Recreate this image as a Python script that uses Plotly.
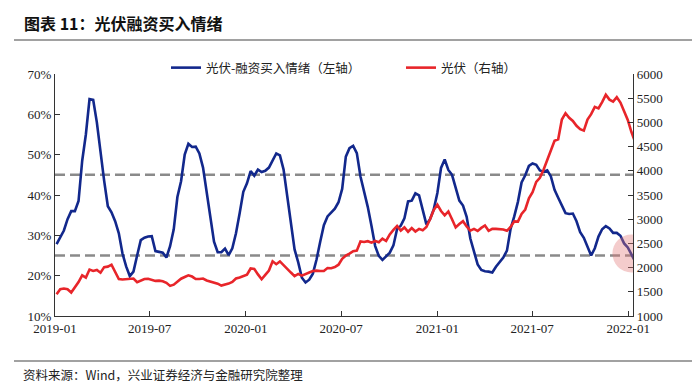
import pandas as pd
import plotly.graph_objects as go

# ---- data (weekly) ----
start_date = "2019-01-04"
sentiment = [  # 光伏-融资买入情绪 (%), left axis
    27.8, 29.4, 31.2, 34.0, 36.0, 36.0, 38.5, 48.5, 55.0, 63.8,
    63.6, 58.0, 50.5, 43.5, 37.2, 35.7, 33.5, 30.5, 25.5, 22.3,
    19.9, 21.0, 25.0, 28.8, 29.4, 29.7, 29.8, 26.1, 25.9, 25.7,
    24.5, 27.3, 31.5, 39.5, 43.4, 50.0, 52.7, 51.9, 52.0, 50.3,
    46.8, 40.5, 34.0, 28.4, 25.8, 25.8, 26.7, 25.1, 26.8, 30.5,
    35.5, 40.8, 42.9, 45.9, 44.8, 46.3, 45.7, 46.0, 46.8, 48.6,
    50.3, 49.8, 46.3, 39.7, 32.5, 26.5, 23.3, 19.5, 18.3, 19.0,
    20.5, 24.0, 28.4, 32.5, 34.7, 35.7, 36.6, 38.2, 41.5, 49.5,
    51.6, 52.2, 50.4, 44.6, 40.9, 37.0, 32.4, 27.4, 24.9, 23.9,
    24.8, 25.7, 27.5, 31.6, 32.4, 34.2, 38.4, 38.6, 40.4, 39.9,
    36.3, 32.7, 34.0, 36.4, 40.5, 46.7, 48.8, 46.2, 45.0, 42.0,
    38.6, 37.4, 34.6, 29.2, 26.0, 22.8, 21.4, 21.1, 21.0, 20.8,
    22.2, 23.5, 24.5, 26.2, 31.6, 34.7, 38.3, 43.1, 44.9, 47.2,
    47.8, 47.5, 46.1, 45.8, 46.1, 44.6, 41.3, 39.3, 37.3, 35.5,
    35.3, 35.4, 33.5, 30.8, 29.4, 27.0, 25.0, 26.8, 29.7, 31.5,
    32.3, 31.7, 30.6, 30.6, 29.9, 28.0, 27.0, 25.3, 23.5,
]
pv_index = [  # 光伏 index, right axis
    1450, 1555, 1568, 1552, 1485, 1595, 1700, 1840, 1795, 1960,
    1932, 1950, 1895, 2010, 2020, 2060, 1900, 1765, 1755, 1765,
    1770, 1775, 1700, 1732, 1765, 1768, 1752, 1725, 1730, 1718,
    1685, 1622, 1648, 1712, 1770, 1806, 1840, 1815, 1765, 1765,
    1775, 1735, 1712, 1690, 1668, 1628, 1645, 1670, 1705, 1775,
    1796, 1822, 1855, 1982, 1972, 1860, 1760, 1850, 1940, 2130,
    2070, 2128, 2050, 1955, 1898, 1825, 1868, 1835, 1860, 1900,
    1928, 1938, 1930, 1930, 1990, 1988, 2010, 2060, 2180, 2250,
    2290, 2340, 2350, 2540, 2530, 2545, 2515, 2550, 2525, 2600,
    2550, 2685, 2780, 2860, 2765, 2830, 2740, 2815, 2745, 2800,
    2770, 2840, 3000, 3190, 3300, 3170, 3080, 3160, 3000, 2830,
    2900, 2960, 2850, 2765, 2800, 2758, 2820, 2870, 2760, 2800,
    2800, 2789, 2788, 2760, 2840, 2955, 2950, 3110, 3200, 3430,
    3560, 3770, 3855, 4020, 4220, 4430, 4620, 4650, 5060, 5190,
    5094, 5030, 4930, 4860, 4830, 5060, 5170, 5320, 5290, 5420,
    5570, 5470, 5430, 5520, 5410, 5230, 5050, 4800, 4600,
]
dates = pd.date_range(start_date, periods=len(sentiment), freq="7D")
ref_levels = [45, 25]          # dashed reference lines (left axis, %)
highlight = ("2022-01-07", 25.5)  # circled latest reading

tick_dates = ["2019-01-01", "2019-07-01", "2020-01-01", "2020-07-01",
              "2021-01-01", "2021-07-01", "2022-01-01"]
tick_text = ["2019-01", "2019-07", "2020-01", "2020-07", "2021-01", "2021-07", "2022-01"]

title = "图表 11：光伏融资买入情绪"
footer = "资料来源：Wind，兴业证券经济与金融研究院整理"
name_blue = "光伏-融资买入情绪（左轴）"
name_red = "光伏（右轴）"

# ---- layout helpers ----
W, H = 700, 384
L, R, T, B = 47, 75, 66, 76
PW, PH = W - L - R, H - T - B
def px(x): return (x - L) / PW
def py(y): return (H - B - y) / PH

BLUE = "#12288c"
RED = "#e8252a"
serif = "Liberation Serif"
cjk = "Noto Sans CJK SC"

fig = go.Figure()
fig.add_trace(go.Scatter(x=dates, y=sentiment, name=name_blue, mode="lines",
                         line=dict(color=BLUE, width=2.6), yaxis="y"))
fig.add_trace(go.Scatter(x=dates, y=pv_index, name=name_red, mode="lines",
                         line=dict(color=RED, width=2.6), yaxis="y2"))

shapes = []
for lv in ref_levels:
    shapes.append(dict(type="line", xref="paper", x0=0, x1=1, yref="y", y0=lv, y1=lv,
                       line=dict(color="#8a8a8a", width=2.5, dash="10px,5px"), layer="below"))
shapes.append(dict(type="circle", xref="x", yref="y", xsizemode="pixel", ysizemode="pixel",
                   xanchor=highlight[0], yanchor=highlight[1], x0=-19, x1=19, y0=-19, y1=19,
                   fillcolor="rgba(225,120,120,0.38)", line=dict(width=0), layer="above"))
# title & footer rules
shapes.append(dict(type="line", xref="paper", yref="paper", x0=px(6), x1=px(692),
                   y0=py(32), y1=py(32), line=dict(color="#444", width=1.2)))
shapes.append(dict(type="line", xref="paper", yref="paper", x0=px(6), x1=px(692),
                   y0=py(353), y1=py(353), line=dict(color="#444", width=1.2)))

annotations = [
    dict(text=f"<b>{title}</b>", xref="paper", yref="paper", x=px(14), y=py(15),
         xanchor="left", yanchor="middle", showarrow=False,
         font=dict(family=cjk, size=16, color="#111")),
    dict(text=footer, xref="paper", yref="paper", x=px(13), y=py(366),
         xanchor="left", yanchor="middle", showarrow=False,
         font=dict(family=cjk, size=12.5, color="#222")),
]

fig.update_layout(
    width=W, height=H, margin=dict(l=L, r=R, t=T, b=B, autoexpand=False),
    paper_bgcolor="white", plot_bgcolor="white",
    showlegend=True,
    legend=dict(orientation="h", x=px(158), y=py(60), xanchor="left", yanchor="middle",
                font=dict(family=cjk, size=12.5, color="#222"),
                entrywidth=190, entrywidthmode="pixels", bgcolor="rgba(0,0,0,0)"),
    xaxis=dict(type="date", range=["2019-01-01", "2022-01-10"],
               tickvals=tick_dates, ticktext=tick_text,
               ticks="inside", ticklen=5, tickcolor="#333",
               showline=True, linecolor="#333", linewidth=1.3, showgrid=False, zeroline=False,
               tickfont=dict(family=serif, size=13, color="#222")),
    yaxis=dict(range=[10, 70], dtick=10, ticksuffix="%",
               ticks="inside", ticklen=5, tickcolor="#333",
               showline=True, linecolor="#333", linewidth=1.3, showgrid=False, zeroline=False,
               tickfont=dict(family=serif, size=13, color="#222")),
    yaxis2=dict(range=[1000, 6000], dtick=500, overlaying="y", side="right",
                ticks="inside", ticklen=5, tickcolor="#333",
                showline=True, linecolor="#333", linewidth=1.3, showgrid=False, zeroline=False,
                tickfont=dict(family=serif, size=13, color="#222")),
    shapes=shapes, annotations=annotations,
)

fig.write_html("out.html")
